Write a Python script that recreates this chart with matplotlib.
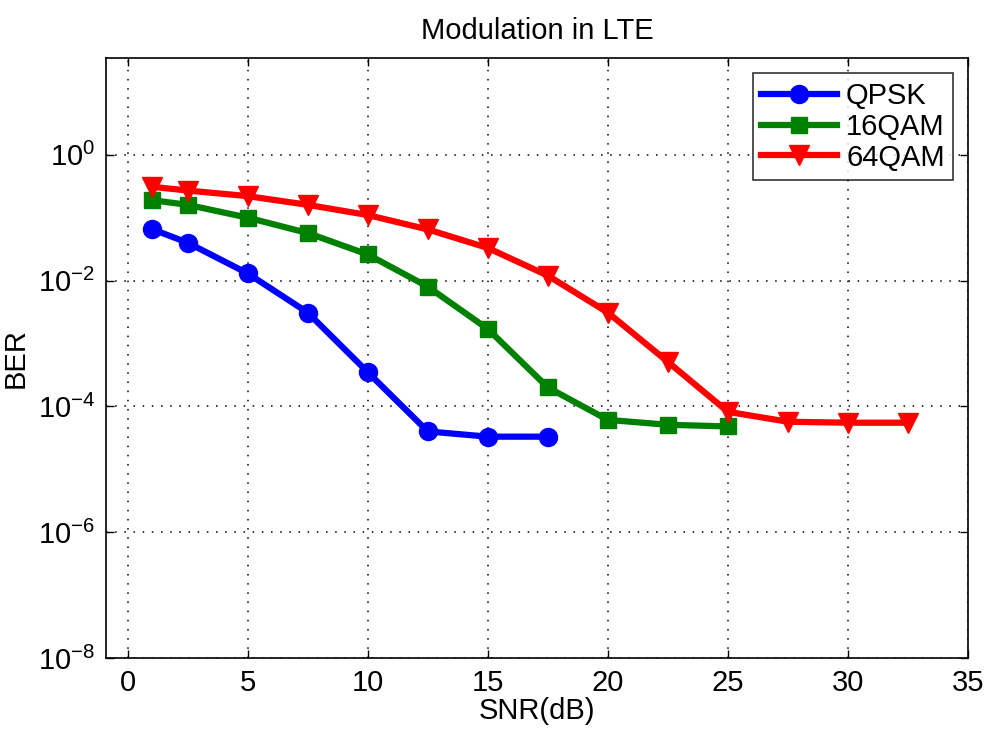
import math
import matplotlib
matplotlib.use("Agg")
import matplotlib.pyplot as plt
from matplotlib.ticker import FixedLocator, FuncFormatter

fam = 'Liberation Sans'
plt.rcParams['font.family'] = [fam, 'DejaVu Sans']
plt.rcParams['mathtext.fontset'] = 'custom'
plt.rcParams['mathtext.rm'] = fam
plt.rcParams['mathtext.it'] = fam
plt.rcParams['mathtext.bf'] = fam

title = "Modulation in LTE"
xlabel = "SNR(dB)"
ylabel = "BER"

qpsk_snr = [1, 2.5, 5, 7.5, 10, 12.5, 15, 17.5]
qpsk_ber = [0.066, 0.040, 0.013, 0.0031, 3.5e-4, 4.0e-5, 3.3e-5, 3.3e-5]

qam16_snr = [1, 2.5, 5, 7.5, 10, 12.5, 15, 17.5, 20, 22.5, 25]
qam16_ber = [0.19, 0.16, 0.10, 0.057, 0.026, 0.008, 0.0017, 2.0e-4, 6.1e-5, 5.1e-5, 4.8e-5]

qam64_snr = [1, 2.5, 5, 7.5, 10, 12.5, 15, 17.5, 20, 22.5, 25, 27.5, 30, 32.5]
qam64_ber = [0.31, 0.27, 0.22, 0.16, 0.11, 0.065, 0.033, 0.012, 0.0031, 5.1e-4, 8.2e-5, 5.7e-5, 5.5e-5, 5.5e-5]

xticks = [0, 5, 10, 15, 20, 25, 30, 35]
yticks = [1e-8, 1e-6, 1e-4, 1e-2, 1e0]

fig = plt.figure(figsize=(9.87, 7.3), dpi=100)
ax = fig.add_axes([106/987, 1 - 658/730, (968 - 106)/987, (658 - 58.5)/730])

fs = 21
lw = 4.5
ms = 13
ax.plot(qpsk_snr, qpsk_ber, color=(0, 0, 1), lw=lw, marker='o', ms=ms, label='QPSK')
ax.plot(qam16_snr, qam16_ber, color=(0, 0.5, 0), lw=lw, marker='s', ms=ms - 1, label='16QAM')
ax.plot(qam64_snr, qam64_ber, color=(1, 0, 0), lw=lw, marker='v', ms=ms + 1, label='64QAM')

ax.set_yscale('log')
ax.set_xlim(-0.9, 35)
ax.set_ylim(1e-8, 10**1.53)
ax.xaxis.set_major_locator(FixedLocator(xticks))
ax.yaxis.set_major_locator(FixedLocator(yticks))
ax.yaxis.set_minor_locator(FixedLocator([]))
ax.yaxis.set_major_formatter(FuncFormatter(lambda v, p: r'$10^{%d}$' % round(math.log10(v))))

ax.grid(True, which='major', color='black', linestyle=(0, (1, 5)), linewidth=1.1)
ax.tick_params(direction='in', length=6, width=1, top=True, right=True, labelsize=fs, pad=8)
for s in ax.spines.values():
    s.set_linewidth(1.2)

ax.set_title(title, fontsize=fs, pad=14)
ax.set_xlabel(xlabel, fontsize=fs, labelpad=0)
ax.set_ylabel(ylabel, fontsize=fs, labelpad=6)

leg = ax.legend(loc='upper right', fontsize=fs, frameon=True, fancybox=False,
                edgecolor='black', handlelength=2.6, borderaxespad=0.5,
                labelspacing=0.1, handletextpad=0.3, borderpad=0.3)
leg.get_frame().set_linewidth(1.2)

fig.savefig('out.png', dpi=100)
